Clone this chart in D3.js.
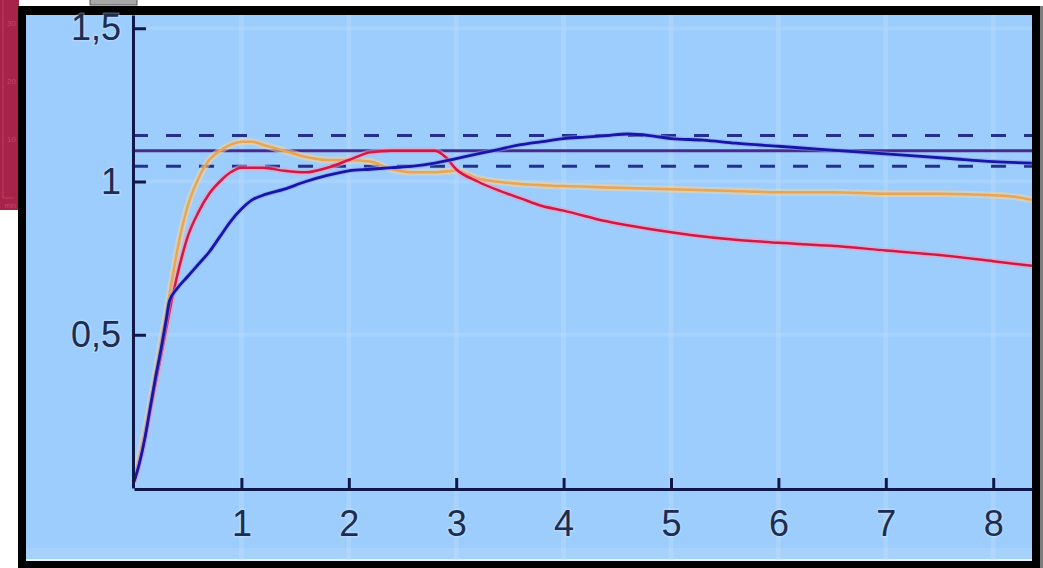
<!DOCTYPE html>
<html><head><meta charset="utf-8">
<script src="https://cdn.jsdelivr.net/npm/d3@7/dist/d3.min.js"></script>
<style>html,body{margin:0;padding:0;background:#fff;overflow:hidden}svg{display:block}</style>
</head><body>
<svg id="c" width="1043" height="568"></svg>
<script>
// ---- data ----
const xTicks = [1, 2, 3, 4, 5, 6, 7, 8];
const yTicks = [0.5, 1, 1.5];
const setpoint = 1.1;
const bandLow = 1.05;
const bandHigh = 1.15;
const stripLabels = ["30", "20", "10"];

const blueT = [0, 0.05, 0.1, 0.15, 0.2, 0.25, 0.3, 0.33, 0.4, 0.5, 0.6, 0.7, 0.8, 0.9, 1.0, 1.1, 1.2, 1.4, 1.6, 1.8, 2.0, 2.2, 2.4, 2.6, 2.8, 3.0, 3.2, 3.4, 3.6, 3.8, 4.0, 4.2, 4.4, 4.6, 4.8, 5.0, 5.3, 5.6, 6.0, 6.4, 6.8, 7.2, 7.6, 8.0, 8.36];
const blueV = [0.02, 0.08, 0.16, 0.26, 0.36, 0.45, 0.55, 0.61, 0.65, 0.69, 0.73, 0.77, 0.82, 0.87, 0.91, 0.94, 0.955, 0.975, 1.0, 1.02, 1.035, 1.04, 1.045, 1.05, 1.06, 1.075, 1.09, 1.105, 1.12, 1.13, 1.14, 1.145, 1.15, 1.155, 1.15, 1.14, 1.135, 1.125, 1.115, 1.105, 1.095, 1.085, 1.075, 1.065, 1.06];

const redT = [0, 0.05, 0.1, 0.15, 0.2, 0.25, 0.3, 0.35, 0.4, 0.45, 0.5, 0.6, 0.7, 0.8, 0.9, 1.0, 1.2, 1.4, 1.6, 1.8, 2.0, 2.2, 2.4, 2.6, 2.8, 2.9, 3.0, 3.2, 3.4, 3.6, 3.8, 4.0, 4.4, 4.8, 5.2, 5.6, 6.0, 6.5, 7.0, 7.5, 8.0, 8.36];
const redV = [0.02, 0.08, 0.16, 0.25, 0.34, 0.43, 0.52, 0.61, 0.69, 0.76, 0.82, 0.9, 0.96, 1.0, 1.03, 1.045, 1.045, 1.035, 1.03, 1.045, 1.07, 1.095, 1.1, 1.1, 1.1, 1.08, 1.04, 1.0, 0.97, 0.945, 0.92, 0.905, 0.87, 0.845, 0.825, 0.81, 0.8, 0.79, 0.775, 0.76, 0.74, 0.725];

const orangeT = [0, 0.05, 0.1, 0.15, 0.2, 0.25, 0.3, 0.35, 0.4, 0.5, 0.6, 0.7, 0.8, 0.9, 1.0, 1.1, 1.2, 1.4, 1.6, 1.8, 2.0, 2.2, 2.4, 2.6, 2.8, 3.0, 3.2, 3.5, 4.0, 4.5, 5.0, 5.5, 6.0, 6.5, 7.0, 7.5, 8.0, 8.2, 8.36];
const orangeV = [0.02, 0.1, 0.18, 0.27, 0.37, 0.47, 0.57, 0.67, 0.77, 0.92, 1.01, 1.07, 1.1, 1.12, 1.13, 1.13, 1.12, 1.1, 1.08, 1.07, 1.07, 1.065, 1.04, 1.03, 1.03, 1.035, 1.01, 0.995, 0.985, 0.98, 0.975, 0.97, 0.965, 0.965, 0.96, 0.96, 0.955, 0.95, 0.94];

// ---- drawing ----
const svg = d3.select("#c");

// crimson strip on the left
svg.append("rect").attr("x", 0).attr("y", 0).attr("width", 19).attr("height", 210).attr("fill", "#a8234a");
svg.append("line").attr("x1", 3).attr("x2", 3).attr("y1", 0).attr("y2", 198).attr("stroke", "#c03a62").attr("stroke-width", 1);
svg.append("line").attr("x1", 3).attr("x2", 13).attr("y1", 198).attr("y2", 198).attr("stroke", "#c03a62").attr("stroke-width", 1);
svg.selectAll("text.strip").data(stripLabels).join("text")
  .attr("class", "strip").attr("x", 16).attr("y", (d, i) => 26 + i * 58)
  .attr("text-anchor", "end").attr("font-family", "Liberation Sans, Arial, sans-serif")
  .attr("font-size", 8).attr("fill", "#c8436a").text(d => d);
svg.append("text").attr("x", 16).attr("y", 208).attr("text-anchor", "end")
  .attr("font-family", "Liberation Sans, Arial, sans-serif").attr("font-size", 7).attr("fill", "#c8436a").text("min");

// gray tab at top
svg.append("rect").attr("x", 90).attr("y", -2).attr("width", 47).attr("height", 7).attr("fill", "#a7a7a7").attr("stroke", "#555").attr("stroke-width", 1);

// black frame
svg.append("rect").attr("x", 18).attr("y", 6).attr("width", 1022).attr("height", 562).attr("fill", "#000");
svg.append("rect").attr("x", 1040).attr("y", 6).attr("width", 3).attr("height", 562).attr("fill", "#7d7d7d");
// panel
svg.append("rect").attr("x", 26).attr("y", 15).attr("width", 1006).attr("height", 545).attr("fill", "#9ccdfc");
svg.append("rect").attr("x", 26).attr("y", 548).attr("width", 1006).attr("height", 11).attr("fill", "#a6d1fb");
svg.append("rect").attr("x", 26).attr("y", 559).attr("width", 1006).attr("height", 2).attr("fill", "#e6f3ff");

const x = d3.scaleLinear().domain([0, 898 / 107.4]).range([134, 1032]);
const y = d3.scaleLinear().domain([0, 473 / 306.5]).range([488, 15]);

svg.append("clipPath").attr("id", "pc").append("rect")
  .attr("x", 26).attr("y", 15).attr("width", 1006).attr("height", 545);
const plot = svg.append("g").attr("clip-path", "url(#pc)");

// faint grid
plot.selectAll("line.vg").data(xTicks).join("line").attr("class", "vg")
  .attr("x1", d => x(d)).attr("x2", d => x(d)).attr("y1", 15).attr("y2", 560)
  .attr("stroke", "#c4e2ff").attr("stroke-opacity", 0.3).attr("stroke-width", 5);
plot.selectAll("line.hg").data(yTicks).join("line").attr("class", "hg")
  .attr("x1", 134).attr("x2", 1032).attr("y1", d => y(d)).attr("y2", d => y(d))
  .attr("stroke", "#c4e2ff").attr("stroke-opacity", 0.25).attr("stroke-width", 4);

// reference lines
plot.append("line").attr("x1", 133).attr("x2", 1032).attr("y1", y(setpoint)).attr("y2", y(setpoint))
  .attr("stroke", "#4a2a8c").attr("stroke-width", 3);
[bandLow, bandHigh].forEach(v => {
  plot.append("line").attr("x1", 133).attr("x2", 1032).attr("y1", y(v)).attr("y2", y(v))
    .attr("stroke", "#23308e").attr("stroke-width", 3).attr("stroke-dasharray", "15,18");
});

const line = d3.line().x(d => x(d[0])).y(d => y(d[1])).curve(d3.curveMonotoneX);
function series(ts, vs, glow, gw, col, w) {
  const pts = ts.map((t, i) => [t, vs[i]]);
  plot.append("path").attr("d", line(pts)).attr("fill", "none")
    .attr("stroke", glow).attr("stroke-width", gw).attr("stroke-opacity", 0.55).attr("stroke-linejoin", "round");
  plot.append("path").attr("d", line(pts)).attr("fill", "none")
    .attr("stroke", col).attr("stroke-width", w).attr("stroke-linejoin", "round");
}
series(orangeT, orangeV, "#f6d49a", 7, "#eaa552", 2.5);
series(redT, redV, "#f59ab8", 6, "#d01848", 2.5);
series(blueT, blueV, "#8f9ce8", 5, "#1616a8", 2.8);

// axes
const loc = d3.formatLocale({decimal: ",", thousands: ".", grouping: [3], currency: ["", ""]});
const fmt = loc.format("~g");

const gx = svg.append("g").attr("transform", `translate(0,${y(0) + 1})`)
  .call(d3.axisBottom(x).tickValues(xTicks).tickSizeInner(-11).tickSizeOuter(0).tickPadding(21).tickFormat(fmt));
const gy = svg.append("g").attr("transform", `translate(${x(0) - 1},0)`)
  .call(d3.axisLeft(y).tickValues(yTicks).tickSizeInner(-13).tickSizeOuter(0).tickPadding(12).tickFormat(fmt));

[gx, gy].forEach(g => {
  g.select(".domain").attr("stroke", "#10184a").attr("stroke-width", 3);
  g.selectAll(".tick line").attr("stroke", "#10184a").attr("stroke-width", 3);
  g.selectAll(".tick text").attr("fill", "#1e2c50")
    .attr("font-family", "Liberation Sans, Arial, sans-serif").attr("font-size", 36)
    .attr("stroke", "#d4ecff").attr("stroke-opacity", 0.35).attr("stroke-width", 3).attr("paint-order", "stroke");
});
</script>
</body></html>
